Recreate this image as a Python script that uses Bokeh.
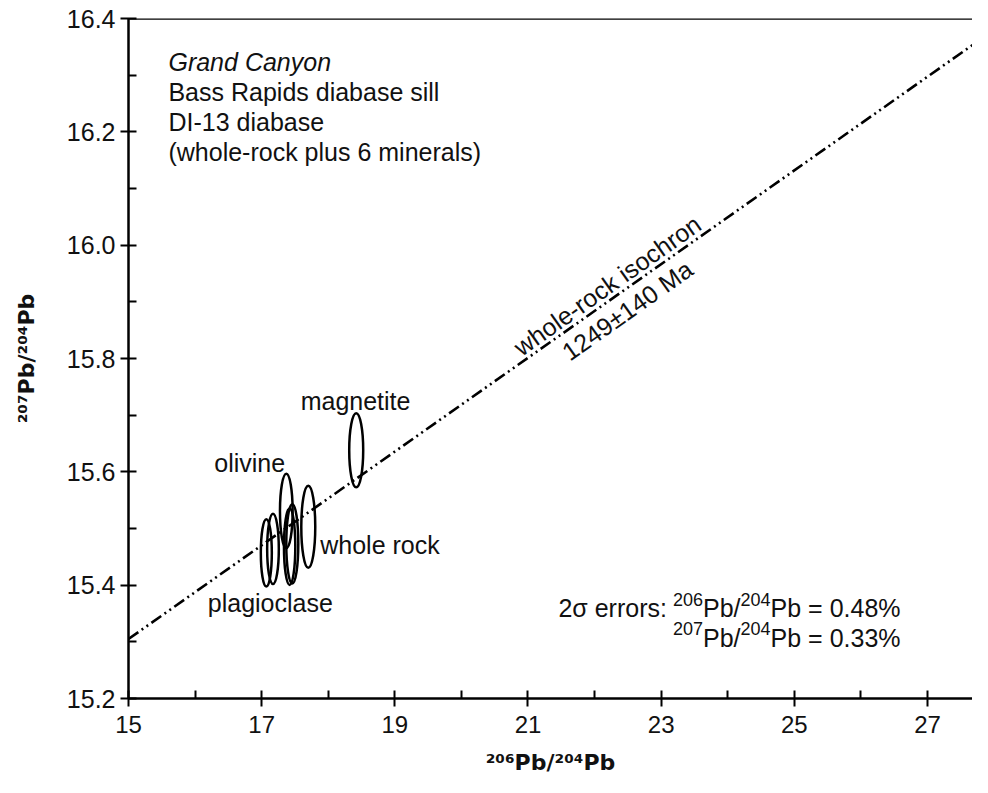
import math
from bokeh.plotting import figure
from bokeh.models import (ColumnDataSource, Label, Span, FixedTicker, Range1d,
                          NumeralTickFormatter)
from bokeh.embed import file_html
from bokeh.resources import INLINE

# ---- data ----
# ellipse centres (206Pb/204Pb, 207Pb/204Pb) and 2-sigma ellipse sizes
samples = ["plagioclase-a", "plagioclase-b", "olivine", "mineral-d1", "mineral-d2", "whole rock", "magnetite"]
pb206 = [17.07, 17.17, 17.37, 17.46, 17.42, 17.70, 18.42]
pb207 = [15.457, 15.464, 15.531, 15.473, 15.468, 15.503, 15.638]
ell_w = [0.165, 0.175, 0.19, 0.18, 0.17, 0.21, 0.21]
ell_h = [0.119, 0.124, 0.131, 0.140, 0.135, 0.145, 0.131]

# whole-rock isochron end points
iso_x = [15.0, 28.0]
iso_y = [15.305, 16.380]

x_ticks = [15, 17, 19, 21, 23, 25, 27]
x_minor = [16, 18, 20, 22, 24, 26]
y_ticks = [15.2, 15.4, 15.6, 15.8, 16.0, 16.2, 16.4]
y_minor = [15.3, 15.5, 15.7, 15.9, 16.1, 16.3]

x_title = "²⁰⁶Pb/²⁰⁴Pb"
y_title = "²⁰⁷Pb/²⁰⁴Pb"
info_lines = ["Grand Canyon", "Bass Rapids diabase sill", "DI-13 diabase",
              "(whole-rock plus 6 minerals)"]
# text runs: (text, is_superscript)
err_line1 = [("2σ errors: ", False), ("206", True), ("Pb/", False), ("204", True), ("Pb = 0.48%", False)]
err_line2 = [("207", True), ("Pb/", False), ("204", True), ("Pb = 0.33%", False)]

FONT = "Liberation Sans"
TITLE_FONT = "DejaVu Sans"
TXT = "#111111"

# Arial / Liberation Sans advance widths (em)
W_REG = {c: 0.556 for c in "0123456789"}
W_REG.update({" ": 0.278, ".": 0.278, "%": 0.889, "=": 0.584, "P": 0.667, "b": 0.556,
              "/": 0.278, "e": 0.556, "r": 0.333, "o": 0.556, "s": 0.5, ":": 0.278,
              "σ": 0.583})

p = figure(width=972, height=777, output_backend="svg", toolbar_location=None,
           x_range=Range1d(15, 27.676), y_range=Range1d(15.2, 16.4),
           min_border_left=128, min_border_right=0, min_border_top=18,
           min_border_bottom=77)
p.background_fill_color = "white"
p.border_fill_color = "white"
p.outline_line_color = None
p.xgrid.visible = False
p.ygrid.visible = False

for ax in (p.xaxis[0], p.yaxis[0]):
    ax.axis_line_width = 2.5
    ax.axis_line_color = "black"
    ax.major_tick_line_width = 2
    ax.minor_tick_line_width = 2
    ax.major_tick_line_color = "black"
    ax.minor_tick_line_color = "black"
    ax.major_tick_in = 8
    ax.major_tick_out = 8
    ax.minor_tick_in = 8
    ax.minor_tick_out = 0
    ax.major_label_text_color = TXT
    ax.major_label_text_font = FONT
    ax.axis_label_text_font = TITLE_FONT
    ax.axis_label_text_font_style = "bold"
    ax.axis_label_text_color = TXT

p.xaxis.ticker = FixedTicker(ticks=x_ticks, minor_ticks=x_minor)
p.yaxis.ticker = FixedTicker(ticks=y_ticks, minor_ticks=y_minor)
p.yaxis.formatter = NumeralTickFormatter(format="0.0")
p.xaxis.major_label_text_font_size = "24px"
p.xaxis.major_label_standoff = 9
p.yaxis.major_label_text_font_size = "25px"
p.yaxis.major_label_standoff = 5

p.xaxis.axis_label = x_title
p.yaxis.axis_label = y_title
p.xaxis.axis_label_text_font_size = "22px"
p.yaxis.axis_label_text_font_size = "22px"
p.xaxis.axis_label_standoff = 14
p.yaxis.axis_label_standoff = 25

# top frame line
p.add_layout(Span(location=16.4, dimension="width", line_color="black", line_width=2.5))

# isochron
p.line(iso_x, iso_y, line_color="black", line_width=2.6, line_dash="12 4 2 4 2 4")

src = ColumnDataSource(dict(x=pb206, y=pb207, w=ell_w, h=ell_h, name=samples))
p.ellipse(x="x", y="y", width="w", height="h", source=src, fill_color=None,
          line_color="black", line_width=2.5)


def lab(x, y, text, align="left", angle=0.0, style="normal", size="25px"):
    p.add_layout(Label(x=x, y=y, text=text, text_font=FONT, text_font_size=size,
                       text_color=TXT, text_align=align, text_baseline="middle",
                       angle=angle, text_font_style=style))


def runs(x, y, parts, size, sup_size, rise, align="left"):
    widths = [sum(W_REG.get(c, 0.556) for c in t) * (sup_size if s else size) for t, s in parts]
    total = sum(widths)
    cum = {"left": 0.0, "right": -total, "center": -total / 2}[align]
    for (t, s), w in zip(parts, widths):
        p.add_layout(Label(x=x, y=y, text=t, x_offset=cum, y_offset=rise if s else 0.0,
                           text_font=FONT, text_font_size=f"{sup_size if s else size}px",
                           text_color=TXT, text_align="left",
                           text_baseline="alphabetic"))
        cum += w


# info block
lab(15.60, 16.323, info_lines[0], style="italic")
lab(15.60, 16.270, info_lines[1])
lab(15.60, 16.217, info_lines[2])
lab(15.60, 16.165, info_lines[3])

# sample labels
lab(18.41, 15.725, "magnetite", align="center")
lab(16.82, 15.615, "olivine", align="center")
lab(17.88, 15.471, "whole rock")
lab(17.13, 15.368, "plagioclase", align="center")

# isochron labels
lab(22.19, 15.929, "whole-rock isochron", align="center", angle=0.616)
lab(22.49, 15.885, "1249±140 Ma", align="center", angle=0.616)

# error note
runs(26.595, 15.359, err_line1, 25, 18, 9, align="right")
runs(26.595, 15.307, err_line2, 25, 18, 9, align="right")

open("out.html", "w").write(file_html(p, INLINE))
